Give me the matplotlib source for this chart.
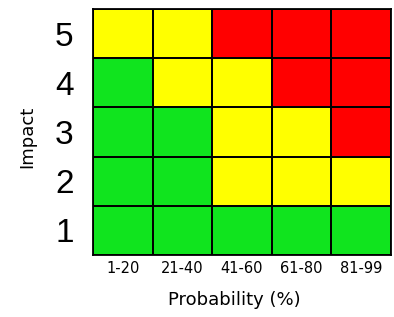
import matplotlib
matplotlib.use("Agg")
import matplotlib.pyplot as plt
import numpy as np
from matplotlib.colors import ListedColormap, BoundaryNorm

probability = ["1-20", "21-40", "41-60", "61-80", "81-99"]
impact = ["1", "2", "3", "4", "5"]
# risk level: 0 = low (green), 1 = medium (yellow), 2 = high (red); rows = impact 1..5
risk_impact1 = [0, 0, 0, 0, 0]
risk_impact2 = [0, 0, 1, 1, 1]
risk_impact3 = [0, 0, 1, 1, 2]
risk_impact4 = [0, 1, 1, 2, 2]
risk_impact5 = [1, 1, 2, 2, 2]
level_colors = ["#10E41E", "#FFFF00", "#FF0000"]

grid = np.array([risk_impact1, risk_impact2, risk_impact3, risk_impact4, risk_impact5])

fig = plt.figure(figsize=(3.94, 3.17), dpi=100)
ax = fig.add_axes([93/394, 1 - 255/317, (391 - 93)/394, (255 - 9)/317])
cmap = ListedColormap(level_colors)
norm = BoundaryNorm([-0.5, 0.5, 1.5, 2.5], cmap.N)
ax.pcolormesh(grid, cmap=cmap, norm=norm, edgecolors="black", linewidth=1.3)

ax.set_xticks(np.arange(len(probability)) + 0.5)
ax.set_xticklabels(probability, fontsize=10.5, family="DejaVu Sans")
ax.set_yticks(np.arange(len(impact)) + 0.5)
ax.set_yticklabels(impact, fontsize=24, family="Liberation Sans")
ax.tick_params(axis="both", length=0)
ax.tick_params(axis="y", pad=14)
ax.tick_params(axis="x", pad=4)
for s in ax.spines.values():
    s.set_linewidth(1.3)
ax.set_xlim(0, 5)
ax.set_ylim(0, 5)

ax.set_xlabel("Probability (%)", fontsize=13, family="DejaVu Sans")
ax.set_ylabel("Impact", fontsize=13, family="DejaVu Sans")
ax.xaxis.set_label_coords(0.475, -0.145)
ax.yaxis.set_label_coords(-0.19, 0.48)

fig.savefig("out.png", dpi=100)
